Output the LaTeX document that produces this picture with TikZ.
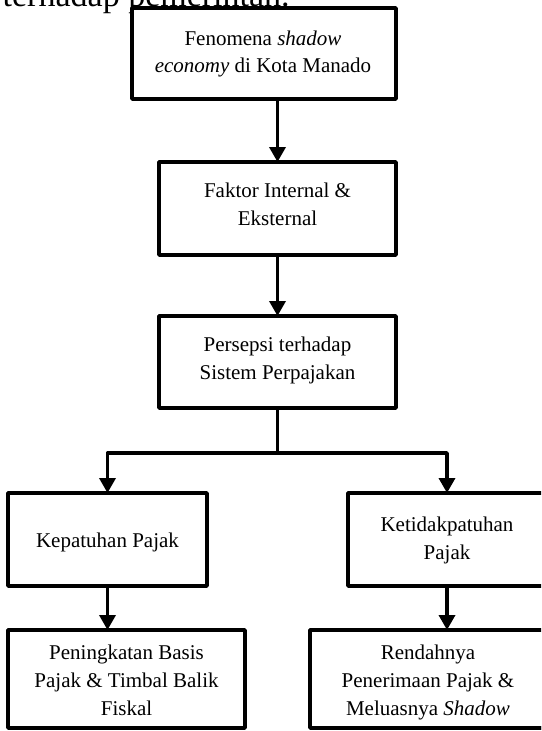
\documentclass[tikz,border=0pt]{standalone}
\usepackage{fontspec}
\setmainfont{Liberation Serif}
\usetikzlibrary{arrows.meta}
\begin{document}
\begin{tikzpicture}[x=1pt,y=-1pt,
  box/.style={draw=black, line width=3.5pt, line join=round, inner sep=0pt, outer sep=0pt, fill=white},
  txt/.style={align=center, inner sep=0pt, outer sep=0pt, anchor=north, font=\fontsize{21}{28}\selectfont, execute at begin node=\strut},
  conn/.style={line width=3.5pt, -{Triangle[length=15pt,width=16pt]}},
  link/.style={line width=3.5pt}]
\useasboundingbox (0,0) rectangle (541,731);
\clip (0,0) rectangle (541,731);
\fill[white] (0,0) rectangle (541,731);
\node[anchor=base west, inner sep=0pt, font=\fontsize{34}{40}\selectfont] (head) at (2.5,6) {terhadap pemerintah.};
% boxes
\node[box, minimum width=264pt, minimum height=91pt] (b1) at (264,53.5) {};
\node[box, minimum width=237pt, minimum height=93pt] (b2) at (277.5,208.5) {};
\node[box, minimum width=237pt, minimum height=92pt] (b3) at (277.5,362) {};
\node[box, minimum width=199pt, minimum height=93pt] (b4) at (107.5,539.5) {};
\node[box, minimum width=198pt, minimum height=93pt] (b5) at (447,539.5) {};
\node[box, minimum width=237pt, minimum height=98pt] (b6) at (126.5,679) {};
\node[box, minimum width=236pt, minimum height=98pt] (b7) at (428,679) {};
% texts
\node[txt, font=\fontsize{21}{27}\selectfont] (t1) at (263,30.5) {Fenomena \textit{shadow}\\\textit{economy} di Kota Manado};
\node[txt] (t2) at (277.5,183) {Faktor Internal \&\\Eksternal};
\node[txt] (t3) at (277.5,337) {Persepsi terhadap\\Sistem Perpajakan};
\node[txt] (t4) at (107.5,528) {Kepatuhan Pajak};
\node[txt] (t5) at (447,516.5) {Ketidakpatuhan\\Pajak};
\node[txt] (t6) at (126.5,645) {Peningkatan Basis\\Pajak \& Timbal Balik\\Fiskal};
\node[txt] (t7) at (428,645) {Rendahnya\\Penerimaan Pajak \&\\Meluasnya \textit{Shadow}};
% redraw bottom border over the overflowing text
\draw[line width=3.5pt, line join=round] (b7.south west) -- (b7.south east);
% connectors
\draw[conn] (b2.north |- b1.south) -- (b2.north);
\draw[conn] (b2.south) -- (b3.north);
\coordinate (split) at (277.5,453);
\draw[link] (b3.south) -- (split);
\draw[conn, line join=round] (split) -| (b4.north);
\draw[conn, line join=round] (split) -| (b5.north);
\draw[conn] (b4.south) -- (b4.south |- b6.north);
\draw[conn] (b5.south) -- (b5.south |- b7.north);
\end{tikzpicture}
\end{document}
